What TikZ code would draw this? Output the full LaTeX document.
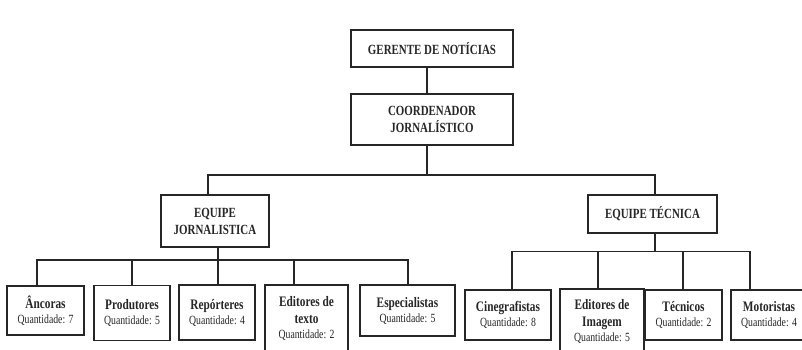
\documentclass[tikz,border=0pt]{standalone}
\usepackage{fontspec}
\setmainfont{Liberation Serif}[FakeStretch=0.78]
\definecolor{ink}{HTML}{262626}
\newcommand\lname[1]{{\fontsize{14.5}{15}\selectfont\bfseries #1}}
\newcommand\lqty[1]{{\fontsize{12.5}{15}\selectfont #1}}
\begin{document}
\begin{tikzpicture}[x=1pt,y=-1pt,
  box/.style={draw=ink, line width=1.6pt, inner sep=0pt, align=center, text=ink},
  head/.style={box, font=\fontsize{14}{17}\selectfont\bfseries},
  leaf/.style={box, font=\fontsize{12.5}{15}\selectfont},
  conn/.style={draw=ink, line width=1.3pt}]
\useasboundingbox[fill=white] (0,0) rectangle (802,350);

% management
\node[head, minimum width=162pt, minimum height=37pt] (ger) at (432,48.5) {GERENTE DE NOTÍCIAS};
\node[head, minimum width=162pt, minimum height=51pt] (coord) at (432,119.5) {COORDENADOR\\JORNALÍSTICO};

% teams
\node[head, minimum width=108pt, minimum height=52pt] (ej) at (215,221) {EQUIPE\\JORNALISTICA};
\node[head, minimum width=129pt, minimum height=38pt] (et) at (652.5,214) {EQUIPE TÉCNICA};

% journalism staff
\node[leaf, minimum width=77pt, minimum height=49pt] (anc) at (45.5,310.5) {\lname{Âncoras}\\\lqty{Quantidade: 7}};
\node[leaf, minimum width=76pt, minimum height=55pt] (prod) at (132,313) {\lname{Produtores}\\\lqty{Quantidade: 5}};
\node[leaf, minimum width=76pt, minimum height=55pt] (rep) at (217,312.5) {\lname{Repórteres}\\\lqty{Quantidade: 4}};
\node[leaf, minimum width=83pt, minimum height=67pt] (edt) at (306.5,318.5) {\lname{Editores de}\\[2.5pt]\lname{texto}\\\lqty{Quantidade: 2}};
\node[leaf, minimum width=95pt, minimum height=51pt] (esp) at (407.5,310.5) {\lname{Especialistas}\\\lqty{Quantidade: 5}};

% technical staff
\node[leaf, minimum width=86pt, minimum height=50pt] (cin) at (508,315) {\lname{Cinegrafistas}\\\lqty{Quantidade: 8}};
\node[leaf, minimum width=84pt, minimum height=65pt] (edi) at (602,321.5) {\lname{Editores de}\\[1.5pt]\lname{Imagem}\\\lqty{Quantidade: 5}};
\node[leaf, minimum width=77pt, minimum height=50pt] (tec) at (683.5,315) {\lname{Técnicos}\\\lqty{Quantidade: 2}};
\node[leaf, minimum width=76pt, minimum height=50pt] (mot) at (769,315) {\lname{Motoristas}\\\lqty{Quantidade: 4}};

% junction points of the buses
\coordinate (hub) at (427,175);
\coordinate (ljn) at (218,260);
\coordinate (rjn) at (655,251.7);

% upper hierarchy
\draw[conn] ([xshift=-5pt]ger.south) -- ([xshift=-5pt]coord.north);
\draw[conn] ([xshift=-5pt]coord.south) -- (hub);
\draw[conn] ([xshift=-7pt]ej.north) |- (hub) -| ([xshift=2.5pt]et.north);

% journalism branch
\draw[conn] ([xshift=3pt]ej.south) -- (ljn);
\draw[conn] (ljn) -| ([xshift=-8.5pt]anc.north);
\draw[conn] (ljn) -| (prod.north);
\draw[conn] (ljn) -- ([xshift=1pt]rep.north);
\draw[conn] (ljn) -| ([xshift=-12.5pt]edt.north);
\draw[conn] (ljn) -| ([xshift=0.5pt]esp.north);

% technical branch
\draw[conn] ([xshift=2.5pt]et.south) -- (rjn);
\draw[conn] (rjn) -| ([xshift=4pt]cin.north);
\draw[conn] (rjn) -| ([xshift=-4pt]edi.north);
\draw[conn] (rjn) -| ([xshift=-0.5pt]tec.north);
\draw[conn] (rjn) -| ([xshift=-19pt]mot.north);
\end{tikzpicture}
\end{document}
